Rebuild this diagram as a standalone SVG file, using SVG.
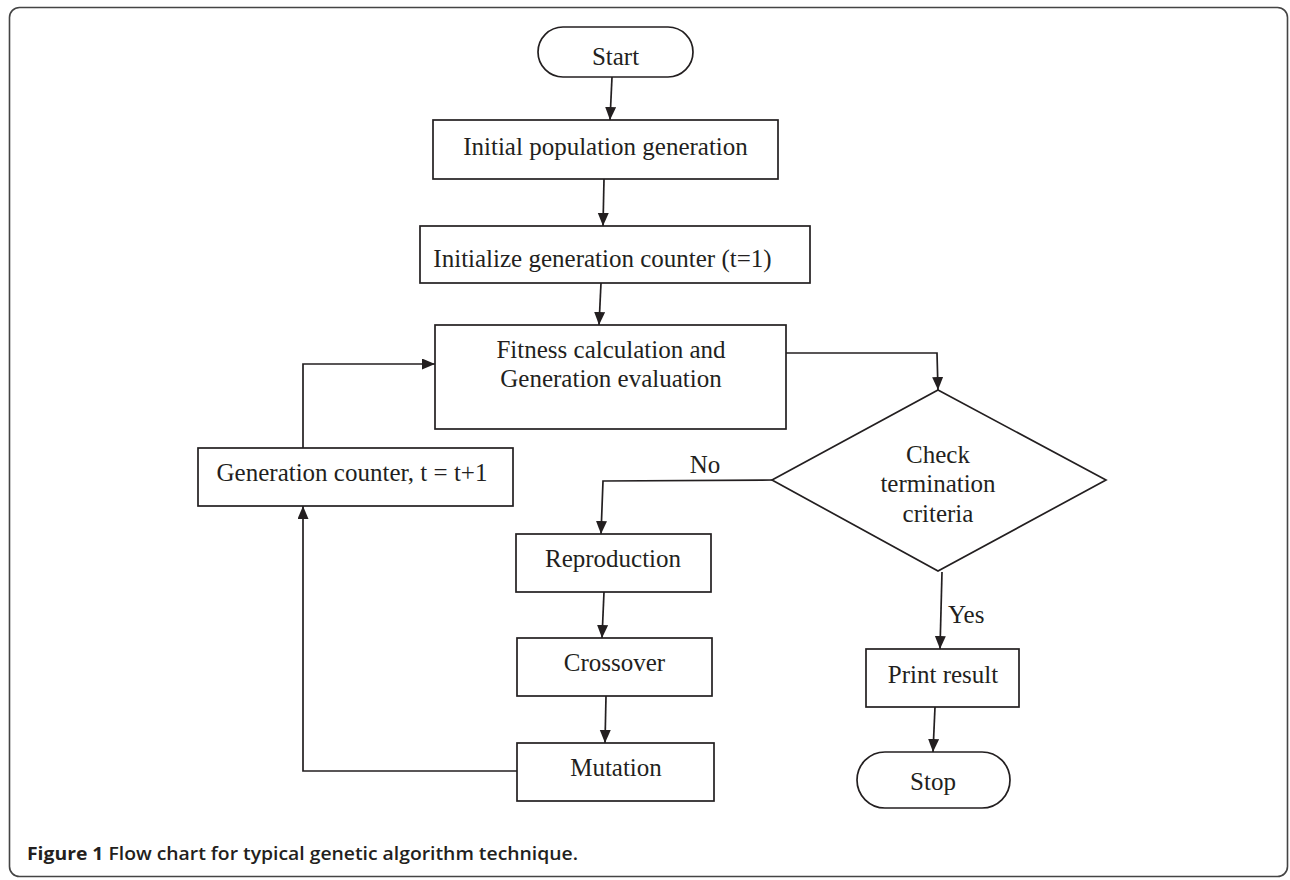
<svg xmlns="http://www.w3.org/2000/svg" width="1290" height="880" viewBox="0 0 1290 880">
  <defs>
    <marker id="arr" markerUnits="userSpaceOnUse" markerWidth="14" markerHeight="12" refX="13" refY="5.5" orient="auto">
      <path d="M0,0 L13,5.5 L0,11 Z" fill="#231f20"/>
    </marker>
    <style>
      .box { fill: #ffffff; stroke: #231f20; stroke-width: 1.7; }
      .conn { fill: none; stroke: #231f20; stroke-width: 1.7; }
      .arrow { marker-end: url(#arr); }
      .lbl { font-family: "Liberation Serif", "Times New Roman", serif; font-size: 25px; fill: #231f20; text-anchor: middle; }
      .cap { font-family: "Open Sans", "Liberation Sans", Arial, sans-serif; font-size: 18px; fill: #231f20; }
    </style>
  </defs>
  <rect x="0" y="0" width="1290" height="880" fill="#ffffff"/>
  <rect id="frame" x="9.5" y="7.5" width="1278" height="869" rx="10" fill="none" stroke="#444" stroke-width="1.6"/>

  <g id="connectors">
    <line class="conn arrow" x1="612" y1="77" x2="610" y2="120"/>
    <line class="conn arrow" x1="604" y1="179" x2="603" y2="226"/>
    <line class="conn arrow" x1="601" y1="283" x2="599" y2="325"/>
    <polyline class="conn arrow" points="786,353 937,353 938,390"/>
    <polyline class="conn arrow" points="772,480 603,481 601,534"/>
    <line class="conn arrow" x1="604" y1="592" x2="602" y2="638"/>
    <line class="conn arrow" x1="606" y1="696" x2="605" y2="743"/>
    <polyline class="conn arrow" points="517,771 303,771 303,506"/>
    <polyline class="conn arrow" points="303,448 303,364 435,364"/>
    <line class="conn arrow" x1="942" y1="572" x2="940" y2="649"/>
    <line class="conn arrow" x1="935" y1="707" x2="933" y2="752"/>
    <text class="lbl" x="705" y="473">No</text>
    <text class="lbl" x="948" y="623" style="text-anchor:start">Yes</text>
  </g>

  <g id="start">
    <rect class="box" x="538" y="27" width="155" height="50" rx="25"/>
    <text class="lbl" x="615.5" y="65">Start</text>
  </g>
  <g id="initial">
    <rect class="box" x="433" y="120" width="345" height="59"/>
    <text class="lbl" x="605.5" y="155">Initial population generation</text>
  </g>
  <g id="initialize">
    <rect class="box" x="420" y="226" width="390" height="57"/>
    <text class="lbl" x="602.5" y="267">Initialize generation counter (t=1)</text>
  </g>
  <g id="fitness">
    <rect class="box" x="435" y="325" width="351" height="104"/>
    <text class="lbl" x="611" y="358">Fitness calculation and</text>
    <text class="lbl" x="611" y="387">Generation evaluation</text>
  </g>
  <g id="check">
    <polygon class="box" points="938,390 1106,480 938,571 772,480"/>
    <text class="lbl" x="938" y="463">Check</text>
    <text class="lbl" x="938" y="492">termination</text>
    <text class="lbl" x="938" y="522">criteria</text>
  </g>
  <g id="gencounter">
    <rect class="box" x="198" y="448" width="315" height="58"/>
    <text class="lbl" x="352" y="481">Generation counter, t = t+1</text>
  </g>
  <g id="reproduction">
    <rect class="box" x="516" y="534" width="195" height="58"/>
    <text class="lbl" x="613" y="567">Reproduction</text>
  </g>
  <g id="crossover">
    <rect class="box" x="517" y="638" width="195" height="58"/>
    <text class="lbl" x="614.5" y="671">Crossover</text>
  </g>
  <g id="mutation">
    <rect class="box" x="517" y="743" width="197" height="58"/>
    <text class="lbl" x="616" y="776">Mutation</text>
  </g>
  <g id="print">
    <rect class="box" x="866" y="649" width="153" height="58"/>
    <text class="lbl" x="943" y="683">Print result</text>
  </g>
  <g id="stop">
    <rect class="box" x="857" y="752" width="153" height="56" rx="28"/>
    <text class="lbl" x="933" y="790">Stop</text>
  </g>

  <g id="caption">
    <text class="cap" x="27" y="860" textLength="551" lengthAdjust="spacingAndGlyphs"><tspan font-weight="700">Figure 1</tspan><tspan font-weight="600"> Flow chart for typical genetic algorithm technique.</tspan></text>
  </g>
</svg>
